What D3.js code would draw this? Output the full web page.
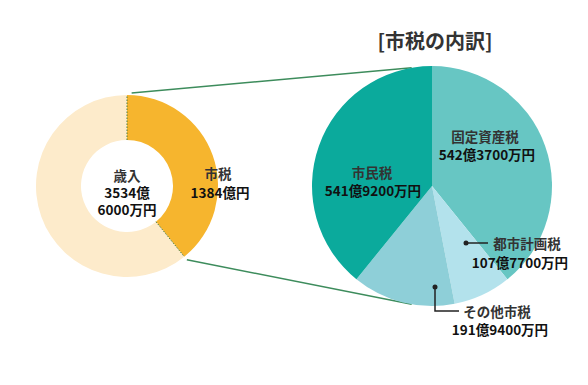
<!DOCTYPE html>
<html>
<head>
<meta charset="utf-8">
<script src="https://cdn.jsdelivr.net/npm/d3@7/dist/d3.min.js"></script>
<style>
  body { margin: 0; background: #fff; }
  svg { display: block; font-family: "Noto Sans CJK JP", "Noto Sans", sans-serif; font-weight: bold; }
</style>
</head>
<body>
<div id="chart"></div>
<script>
// revenue (億円)
var revenueLabels = ["市税", "その他"];
var revenueValues = [1384, 2150.6];
var revenueTotalText = ["歳入", "3534億", "6000万円"];

// city tax breakdown (億円)
var taxLabels = ["固定資産税", "都市計画税", "その他市税", "市民税"];
var taxValues = [542.37, 107.77, 191.94, 541.92];
var taxValueText = ["542億3700万円", "107億7700万円", "191億9400万円", "541億9200万円"];

var width = 588, height = 385;

var donutC = [127, 186], donutR = 91, donutInner = 46;
var pieC = [432, 186], pieR = 120;

var revenueColors = ["#f6b52e", "#fdebcb"];
var taxColors = ["#67c6c3", "#b3e2ec", "#8ecfd8", "#0baa9c"];

var svg = d3.select("#chart")
            .append("svg")
            .attr("width", width)
            .attr("height", height);

var pie = d3.pie().sort(null).value(function(d){ return d; });
var revArcs = pie(revenueValues);
var taxArcs = pie(taxValues);

function polar(c, r, a) {
  return [c[0] + r * Math.sin(a), c[1] - r * Math.cos(a)];
}

// connector lines (under the pies)
var lineColor = "#3d8c5c";
var p1 = polar(donutC, donutR + 2, revArcs[0].startAngle + 0.05),
    p2 = polar(pieC, pieR, -0.17),
    p3 = polar(donutC, donutR + 4, revArcs[0].endAngle),
    p4 = polar(pieC, pieR, Math.PI + 0.17);

svg.append("line")
   .attr("x1", p1[0]).attr("y1", p1[1]).attr("x2", p2[0]).attr("y2", p2[1])
   .attr("stroke", lineColor).attr("stroke-width", 1.5);
svg.append("line")
   .attr("x1", p3[0]).attr("y1", p3[1]).attr("x2", p4[0]).attr("y2", p4[1])
   .attr("stroke", lineColor).attr("stroke-width", 1.5);

// donut
var donut = svg.append("g")
               .attr("transform", "translate(" + donutC[0] + "," + donutC[1] + ")");
var donutArc = d3.arc().innerRadius(donutInner).outerRadius(donutR);

donut.selectAll("path")
     .data(revArcs)
     .enter()
     .append("path")
     .attr("d", donutArc)
     .attr("fill", function(d, i){ return revenueColors[i]; });

// dotted edges of the city tax segment
[revArcs[0].startAngle, revArcs[0].endAngle].forEach(function(a) {
  var a1 = polar([0, 0], donutInner, a), a2 = polar([0, 0], donutR, a);
  donut.append("line")
       .attr("x1", a1[0]).attr("y1", a1[1]).attr("x2", a2[0]).attr("y2", a2[1])
       .attr("stroke", "#4a7d3c").attr("stroke-width", 1)
       .attr("stroke-dasharray", "1.5,1.5");
});

donut.selectAll("text.total")
     .data(revenueTotalText)
     .enter()
     .append("text")
     .attr("class", "total")
     .attr("x", 0)
     .attr("y", function(d, i){ return -11 + i * 17; })
     .attr("text-anchor", "middle")
     .attr("dominant-baseline", "central")
     .attr("font-size", 13.5)
     .attr("fill", function(d, i){ return i == 0 ? "#333" : "#111"; })
     .text(function(d){ return d; });

var shiLabel = donut.append("text")
                    .attr("text-anchor", "middle")
                    .attr("font-size", 13.5)
                    .attr("dominant-baseline", "central");
shiLabel.append("tspan").attr("x", 91).attr("y", -13).attr("fill", "#333").text(revenueLabels[0]);
shiLabel.append("tspan").attr("x", 93).attr("y", 6).attr("fill", "#111").text(revenueValues[0] + "億円");

// right pie
var pieG = svg.append("g")
              .attr("transform", "translate(" + pieC[0] + "," + pieC[1] + ")");
var pieArc = d3.arc().innerRadius(0).outerRadius(pieR);

pieG.selectAll("path")
    .data(taxArcs)
    .enter()
    .append("path")
    .attr("d", pieArc)
    .attr("fill", function(d, i){ return taxColors[i]; });

svg.append("text")
   .attr("x", 435)
   .attr("y", 40)
   .attr("text-anchor", "middle")
   .attr("dominant-baseline", "central")
   .attr("font-size", 20)
   .attr("fill", "#333")
   .text("[市税の内訳]");

// label layout: [name x, name y, value x, value y]
var labelPos = [
  [485, 136, 487, 154],
  [527, 243, 520, 262],
  [497, 311, 500, 329],
  [372, 172, 373, 190]
];

taxLabels.forEach(function(name, i) {
  var p = labelPos[i];
  svg.append("text")
     .attr("x", p[0]).attr("y", p[1])
     .attr("text-anchor", "middle")
     .attr("dominant-baseline", "central")
     .attr("font-size", 13.5)
     .attr("fill", "#333")
     .text(name);
  svg.append("text")
     .attr("x", p[2]).attr("y", p[3])
     .attr("text-anchor", "middle")
     .attr("dominant-baseline", "central")
     .attr("font-size", 13.5)
     .attr("fill", "#111")
     .text(taxValueText[i]);
});

// leader lines for the small slices
svg.append("path")
   .attr("d", "M466,243H488")
   .attr("stroke", "#222").attr("stroke-width", 1.5).attr("fill", "none");
svg.append("circle").attr("cx", 466).attr("cy", 243).attr("r", 2.5).attr("fill", "#222");

svg.append("path")
   .attr("d", "M435,287V311H459")
   .attr("stroke", "#222").attr("stroke-width", 1.5).attr("fill", "none");
svg.append("circle").attr("cx", 435).attr("cy", 287).attr("r", 2.5).attr("fill", "#222");
</script>
</body>
</html>
